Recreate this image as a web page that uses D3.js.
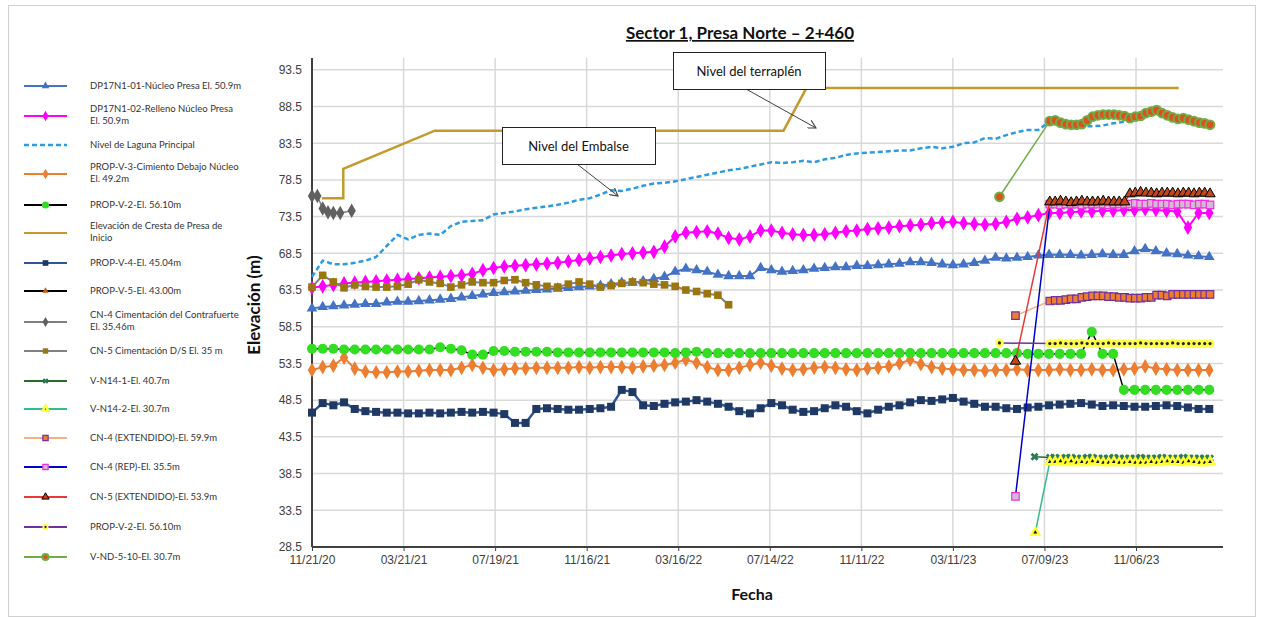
<!DOCTYPE html>
<html lang="es">
<head>
    <meta charset="UTF-8">
    <title>Sector 1, Presa Norte – 2+460</title>
    <script src="https://cdn.jsdelivr.net/npm/d3@7/dist/d3.min.js"></script>
    <style>
        body { margin: 0; background: #fff; }
        svg { display: block; }
        .tick-label { font-family: 'Liberation Sans', Arial, sans-serif; font-size: 12px; fill: #404040; }
        .legend text { font-family: Lato, 'Open Sans', sans-serif; font-size: 9.5px; fill: #333; }
        .note text { font-family: Lato, 'Open Sans', sans-serif; font-size: 13px; fill: #111; }
    </style>
</head>
<body>
<script>
    const width = 1264;
    const height = 617;

    // fechas de lectura: cada 14 dias desde el inicio, y semanal para los instrumentos nuevos
    const gridStart = new Date(2020, 10, 21);
    const readingDates = d3.range(85).map(i => d3.timeDay.offset(gridStart, 14 * i));
    const lateDates = d3.range(31).map(k => d3.timeDay.offset(new Date(2023, 6, 16), 7 * k));
    const xTickDates = d3.range(10).map(i => d3.timeDay.offset(gridStart, 120 * i));
    const yTickValues = [28.5, 33.5, 38.5, 43.5, 48.5, 53.5, 58.5, 63.5, 68.5, 73.5, 78.5, 83.5, 88.5, 93.5];

    const dp01Vals = [61.0,61.2,61.3,61.4,61.5,61.6,61.6,61.8,61.9,61.9,
        62.0,62.1,62.2,62.3,62.5,62.7,62.9,63.1,63.2,63.3,
        63.4,63.5,63.6,63.7,63.8,63.9,64.0,64.1,64.3,64.5,
        64.5,64.7,65.0,65.3,66.0,66.4,66.2,66.0,65.6,65.4,
        65.4,65.4,66.5,66.2,66.0,66.1,66.2,66.4,66.5,66.6,
        66.6,66.8,66.8,66.9,67.0,67.1,67.3,67.3,67.2,67.0,
        66.9,67.0,67.2,67.5,67.9,67.8,67.9,68.0,68.2,68.3,
        68.3,68.3,68.2,68.3,68.4,68.3,68.3,68.8,69.1,68.8,
        68.5,68.4,68.2,68.1,68.0];

    const dp02Vals = [63.8,64.0,64.2,64.4,64.5,64.6,64.7,64.8,64.9,65.0,
        65.1,65.2,65.3,65.4,65.5,65.7,66.2,66.5,66.7,66.8,
        66.9,67.0,67.1,67.2,67.4,67.6,67.8,68.0,68.2,68.4,
        68.5,68.6,68.7,69.4,70.8,71.3,71.4,71.5,71.2,70.6,
        70.4,70.8,71.6,71.6,71.3,71.1,71.0,71.0,71.1,71.3,
        71.5,71.6,71.8,71.9,72.0,72.2,72.3,72.4,72.6,72.7,
        72.8,72.6,72.5,72.4,72.5,72.8,73.2,73.4,73.7,74.0,
        74.0,74.1,74.2,74.2,74.3,74.3,74.4,74.4,74.5,74.4,
        74.3,74.2,72.0,74.0,74.0];

    const lagunaVals = [65.3,67.5,67.0,67.0,67.2,67.5,68.0,69.5,71.0,70.4,
        71.0,71.2,71.0,72.2,72.8,72.9,73.0,73.8,74.0,74.2,
        74.5,74.7,74.9,75.1,75.4,75.8,76.0,76.5,77.1,77.0,
        77.3,77.7,78.0,78.1,78.3,78.6,78.9,79.2,79.5,79.8,
        80.0,80.3,80.6,80.9,80.8,80.9,81.1,80.9,81.3,81.5,
        81.9,82.1,82.2,82.3,82.4,82.5,82.5,82.8,83.0,82.8,
        83.0,83.5,83.6,84.2,84.1,84.6,85.0,85.3,85.3,86.4,
        86.2,86.0,85.8,85.8,85.9,86.2,86.4,86.6,87.0];

    const propV3Vals = [52.6,53.0,53.2,54.3,52.8,52.4,52.3,52.3,52.4,52.4,
        52.5,52.6,52.6,52.6,52.9,53.3,52.9,52.6,52.7,52.8,
        52.8,52.9,52.9,52.9,52.9,53.0,52.9,53.0,53.0,53.0,
        52.9,53.1,53.2,53.3,53.6,54.0,53.6,53.0,52.6,52.6,
        52.9,53.3,53.6,53.2,52.8,52.6,52.7,52.9,53.0,52.9,
        52.7,52.6,52.8,52.9,53.1,53.5,54.0,53.4,53.0,52.8,
        52.7,52.6,52.6,52.5,52.6,52.6,52.7,52.6,52.6,52.6,
        52.7,52.6,52.6,52.7,52.6,52.6,52.7,52.8,53.1,52.8,
        52.7,52.6,52.6,52.6,52.6];

    const propV2Vals = [55.5,55.5,55.5,55.4,55.4,55.4,55.4,55.4,55.4,55.4,
        55.4,55.4,55.7,55.5,55.3,54.7,54.7,55.2,55.2,55.1,
        55.1,55.1,55.1,55.0,55.0,55.0,55.0,55.0,55.0,55.0,
        55.0,55.0,55.0,55.0,54.9,55.0,55.1,54.9,54.9,54.9,
        54.9,54.9,54.9,54.9,54.9,54.9,54.9,54.9,54.9,54.9,
        54.9,54.9,54.9,54.9,54.9,54.9,54.9,54.9,54.9,54.9,
        54.9,54.9,54.9,54.9,54.9,54.9,54.9,54.8,54.8,54.8,
        54.8,54.8,54.8,57.8,54.8,54.8,49.9,49.9,49.9,49.9,
        49.9,49.9,49.9,49.9,49.9];

    const crestaDates = ['2020-12-04', '2021-01-01', '2021-01-01', '2021-05-01', '2022-08-01', '2022-08-31', '2024-01-01'];
    const crestaVals = [76.0, 76.0, 80.0, 85.2, 85.2, 91.0, 91.0];

    const propV4Vals = [46.8,48.1,47.8,48.2,47.3,47.0,46.9,46.8,46.8,46.7,
        46.7,46.8,46.7,46.8,46.9,46.8,46.9,46.8,46.6,45.4,
        45.4,47.3,47.4,47.3,47.2,47.2,47.3,47.4,47.6,49.9,
        49.6,47.8,47.7,48.0,48.2,48.3,48.5,48.3,48.0,47.6,
        47.0,46.7,47.4,48.1,47.8,47.2,46.9,47.0,47.4,47.8,
        47.6,47.0,46.7,47.2,47.6,47.8,48.2,48.5,48.4,48.6,
        48.8,48.3,48.0,47.6,47.6,47.4,47.3,47.5,47.6,47.8,
        47.9,48.0,48.1,47.9,47.7,47.8,47.7,47.6,47.6,47.7,
        47.8,47.7,47.5,47.3,47.3];

    const cn4CimDates = ['2020-11-21', '2020-11-28', '2020-12-05', '2020-12-12', '2020-12-19', '2020-12-28', '2021-01-12'];
    const cn4CimVals = [76.3, 76.3, 74.6, 74.1, 74.0, 74.0, 74.3];

    const cn5dsVals = [63.9,65.5,64.6,63.8,64.2,64.0,63.9,63.9,64.0,64.3,
        64.9,64.6,64.4,63.9,64.2,64.6,64.5,64.5,64.8,64.9,
        64.5,64.2,64.0,63.9,64.3,64.6,64.3,63.9,64.1,64.4,
        64.6,64.5,64.3,64.2,64.0,63.5,63.3,63.0,62.8,61.5];

    // instrumentos nuevos: primera lectura + lecturas semanales
    const vn141Start = ['2023-06-26', 40.8];
    const vn141Vals = [40.7,40.7,40.6,40.7,40.7,40.6,40.6,40.7,40.7,40.6,40.6,40.6,40.7,40.6,40.6,40.6,
        40.6,40.7,40.6,40.6,40.6,40.7,40.6,40.6,40.6,40.7,40.6,40.6,40.6,40.6,40.6];
    const vn142Start = ['2023-06-27', 30.5];
    const vn142Vals = [40.1,40.1,40.2,40.0,40.2,40.0,40.1,40.0,40.2,40.1,40.0,40.0,40.1,40.0,40.0,40.1,
        40.0,40.0,40.0,40.1,40.0,40.1,40.2,40.1,40.1,40.0,40.2,40.1,40.0,40.0,40.1];
    const cn4ExtStart = ['2023-06-01', 60.0];
    const cn4ExtVals = [62.0,62.1,62.1,62.2,62.3,62.3,62.5,62.6,62.7,62.7,62.7,62.6,62.6,62.5,62.5,62.4,
        62.4,62.4,62.5,62.5,62.8,62.8,62.7,62.9,62.9,62.9,62.9,62.9,62.9,62.9,62.9];
    const cn4RepStart = ['2023-06-01', 35.4];
    const cn4RepVals = [75.2,75.2,75.1,75.2,75.2,75.2,75.1,75.2,75.2,75.2,75.2,75.1,75.2,75.2,75.2,75.2,
        75.3,75.2,75.2,75.3,75.2,75.2,75.2,75.1,75.2,75.2,75.2,75.1,75.2,75.2,75.1];
    const cn5ExtStart = ['2023-06-01', 53.8];
    const cn5ExtVals = [75.5,75.5,75.6,75.5,75.4,75.5,75.6,75.5,75.5,75.5,75.6,75.5,75.5,75.5,75.5,76.6,
        76.7,76.8,76.7,76.7,76.6,76.7,76.7,76.7,76.6,76.7,76.7,76.6,76.7,76.7,76.6];
    const propV2bStart = ['2023-05-11', 56.3];
    const propV2bVals = [56.2,56.2,56.3,56.2,56.2,56.2,56.3,56.2,56.2,56.2,56.2,56.3,56.2,56.2,56.2,56.2,
        56.2,56.3,56.2,56.2,56.2,56.2,56.2,56.3,56.2,56.2,56.2,56.2,56.2,56.2,56.2];
    const vnd510Start = ['2023-05-11', 76.2];
    const vnd510Vals = [86.5,86.6,86.3,86.1,86.0,86.0,86.1,86.6,87.1,87.3,87.4,87.4,87.4,87.3,87.2,86.9,
        87.1,87.2,87.6,87.8,88.0,87.6,87.3,87.0,86.8,86.9,86.7,86.5,86.3,86.2,86.0];

    const parse = d3.timeParse('%Y-%m-%d');
    const toPts = (dates, vals) => vals.map((v, i) => ({ date: dates[i], value: v }));
    const latePts = (start, vals) => [{ date: parse(start[0]), value: start[1] }, ...toPts(lateDates, vals)];

    const tri = d3.symbolTriangle, dia = d3.symbolDiamond, sq = d3.symbolSquare, cir = d3.symbolCircle;

    // series en el orden de la leyenda (orden de dibujo)
    const series = [
        { label: ['DP17N1-01-Núcleo Presa El. 50.9m'], color: '#4472C4', w: 2,
          mk: { shape: tri, size: 50, fill: '#4472C4' }, pts: toPts(readingDates, dp01Vals) },
        { label: ['DP17N1-02-Relleno Núcleo Presa', 'El. 50.9m'], color: '#FF00FF', w: 2,
          mk: { shape: dia, size: 62, fill: '#FF00FF' }, pts: toPts(readingDates, dp02Vals) },
        { label: ['Nivel de Laguna Principal'], color: '#2E9BE0', w: 2.5, dash: '5,3',
          mk: null, pts: toPts(readingDates, lagunaVals) },
        { label: ['PROP-V-3-Cimiento Debajo Núcleo', 'El. 49.2m'], color: '#ED7D31', w: 2,
          mk: { shape: dia, size: 62, fill: '#ED7D31' }, pts: toPts(readingDates, propV3Vals) },
        { label: ['PROP-V-2-El. 56.10m'], color: '#000', w: 1.5,
          mk: { shape: cir, size: 80, fill: '#33DD22' }, pts: toPts(readingDates, propV2Vals) },
        { label: ['Elevación de Cresta de Presa de', 'Inicio'], color: '#C49A2C', w: 2.5,
          mk: null, pts: toPts(crestaDates.map(parse), crestaVals) },
        { label: ['PROP-V-4-El. 45.04m'], color: '#2F5597', w: 2.5,
          mk: { shape: sq, size: 64, fill: '#203864' }, pts: toPts(readingDates, propV4Vals) },
        { label: ['PROP-V-5-El. 43.00m'], color: '#000', w: 1.5,
          mk: { shape: tri, size: 36, fill: '#C55A11' }, pts: [] },
        { label: ['CN-4 Cimentación del Contrafuerte', 'El. 35.46m'], color: '#7F7F7F', w: 1.5,
          mk: { shape: dia, size: 60, fill: '#606060' }, pts: toPts(cn4CimDates.map(parse), cn4CimVals) },
        { label: ['CN-5 Cimentación D/S El. 35 m'], color: '#808080', w: 2,
          mk: { shape: sq, size: 58, fill: '#9B7510' }, pts: toPts(readingDates, cn5dsVals) },
        { label: ['V-N14-1-El. 40.7m'], color: '#2A6A2A', w: 1.5,
          mk: { shape: d3.symbolCross, size: 40, fill: '#2F7A5A', rotate: 45 }, pts: latePts(vn141Start, vn141Vals) },
        { label: ['V-N14-2-El. 30.7m'], color: '#33BB88', w: 1.5,
          mk: { shape: tri, size: 28, fill: '#111', stroke: '#FFFF33', sw: 2.5 }, pts: latePts(vn142Start, vn142Vals) },
        { label: ['CN-4 (EXTENDIDO)-El. 59.9m'], color: '#F4B183', w: 1.5,
          mk: { shape: sq, size: 56, fill: '#ED7D31', stroke: '#7030A0', sw: 1.2 }, pts: latePts(cn4ExtStart, cn4ExtVals) },
        { label: ['CN-4 (REP)-El. 35.5m'], color: '#0000CC', w: 1.5,
          mk: { shape: sq, size: 56, fill: '#D6B8D6', stroke: '#EE33DD', sw: 1.2 }, pts: latePts(cn4RepStart, cn4RepVals) },
        { label: ['CN-5 (EXTENDIDO)-El. 53.9m'], color: '#E8383A', w: 1.5,
          mk: { shape: tri, size: 46, fill: '#C0461C', stroke: '#000', sw: 1 }, pts: latePts(cn5ExtStart, cn5ExtVals) },
        { label: ['PROP-V-2-El. 56.10m'], color: '#7030A0', w: 1.5,
          mk: { shape: cir, size: 60, fill: '#FFFF44', inner: '#222' }, pts: latePts(propV2bStart, propV2bVals) },
        { label: ['V-ND-5-10-El. 30.7m'], color: '#70AD47', w: 1.5,
          mk: { shape: cir, size: 60, fill: '#D9531E', stroke: '#70AD47', sw: 2 }, pts: latePts(vnd510Start, vnd510Vals) }
    ];

    const legendY = [86, 116, 145, 174, 205, 233, 263, 291, 322, 351, 381, 409, 438, 467, 497, 527, 557];

    const svg = d3.select('body').append('svg')
        .attr('width', width)
        .attr('height', height);

    // marco del grafico
    svg.append('rect')
        .attr('x', 8.5).attr('y', 5.5)
        .attr('width', 1247).attr('height', 611)
        .attr('fill', 'none').attr('stroke', '#D0D0D0');

    const pLeft = 312, pRight = 1223, pTop = 58, pBottom = 547;

    const x = d3.scaleTime()
        .domain([gridStart, new Date(2024, 1, 28)])
        .range([pLeft, pRight]);
    const y = d3.scaleLinear()
        .domain([28.5, 95.1])
        .range([pBottom, pTop]);

    // rejilla
    svg.append('g').selectAll('line').data(yTickValues.slice(1)).join('line')
        .attr('x1', pLeft).attr('x2', pRight)
        .attr('y1', d => y(d)).attr('y2', d => y(d))
        .attr('stroke', '#D9D9D9').attr('stroke-width', 1.5);
    svg.append('g').selectAll('line').data(xTickDates.slice(1)).join('line')
        .attr('x1', d => x(d)).attr('x2', d => x(d))
        .attr('y1', pTop).attr('y2', pBottom)
        .attr('stroke', '#D9D9D9').attr('stroke-width', 1.5);

    // ejes
    const xAxis = svg.append('g')
        .attr('transform', `translate(0,${pBottom})`)
        .call(d3.axisBottom(x).tickValues(xTickDates).tickFormat(d3.timeFormat('%m/%d/%y')).tickSize(4).tickPadding(4));
    const yAxis = svg.append('g')
        .attr('transform', `translate(${pLeft},0)`)
        .call(d3.axisLeft(y).tickValues(yTickValues).tickFormat(d3.format('.1f')).tickSize(0).tickPadding(10));
    [xAxis, yAxis].forEach(a => {
        a.select('.domain').attr('stroke', '#404040').attr('stroke-width', 2);
        a.selectAll('.tick line').attr('stroke', '#404040');
        a.selectAll('.tick text').attr('class', 'tick-label').attr('fill', null).attr('font-size', null).attr('font-family', null);
    });
    yAxis.select('.domain').attr('d', `M0,${pTop}V${pBottom}`);
    xAxis.select('.domain').attr('d', `M${pLeft},0H${pRight}`);

    // series
    const line = d3.line().x(d => x(d.date)).y(d => y(d.value));

    function drawMarkers (g, pts, mk, scale) {
        const sym = d3.symbol().type(mk.shape).size(mk.size * scale);
        g.selectAll(null).data(pts).join('path')
            .attr('transform', d => `translate(${d.px},${d.py}) rotate(${mk.rotate || 0})`)
            .attr('d', sym)
            .attr('fill', mk.fill)
            .attr('stroke', mk.stroke || 'none')
            .attr('stroke-width', mk.sw || 0);
        if (mk.inner) {
            g.selectAll(null).data(pts).join('circle')
                .attr('cx', d => d.px).attr('cy', d => d.py)
                .attr('r', 1.6 * Math.sqrt(scale))
                .attr('fill', mk.inner);
        }
    }

    const plot = svg.append('g');
    series.forEach(s => {
        if (!s.pts.length) return;
        const g = plot.append('g');
        g.append('path')
            .datum(s.pts)
            .attr('d', line)
            .attr('fill', 'none')
            .attr('stroke', s.color)
            .attr('stroke-width', s.w)
            .attr('stroke-dasharray', s.dash || null);
        if (s.mk) {
            drawMarkers(g, s.pts.map(d => ({ px: x(d.date), py: y(d.value) })), s.mk, 1);
        }
    });

    // leyenda
    const legend = svg.append('g').attr('class', 'legend');
    series.forEach((s, i) => {
        const ly = legendY[i];
        const g = legend.append('g');
        g.append('line')
            .attr('x1', 24).attr('x2', 67)
            .attr('y1', ly).attr('y2', ly)
            .attr('stroke', s.color)
            .attr('stroke-width', s.dash ? 2.5 : 2)
            .attr('stroke-dasharray', s.dash || null);
        if (s.mk) drawMarkers(g, [{ px: 45.5, py: ly }], s.mk, 0.5);
        const t = g.append('text').attr('x', 90);
        s.label.forEach((txt, j) => {
            t.append('tspan')
                .attr('x', 90)
                .attr('y', s.label.length === 1 ? ly + 3 : ly - 4 + j * 12)
                .text(txt);
        });
    });

    // anotaciones
    svg.append('defs').append('marker')
        .attr('id', 'arrow')
        .attr('viewBox', '0 0 10 10')
        .attr('refX', 9).attr('refY', 5)
        .attr('markerWidth', 9).attr('markerHeight', 9)
        .attr('orient', 'auto')
        .append('path')
        .attr('d', 'M0,0L9,5L0,10')
        .attr('fill', 'none')
        .attr('stroke', '#404040')
        .attr('stroke-width', 1.2);

    const notes = [
        { text: 'Nivel del Embalse', box: [502, 127, 153, 37], from: [577, 164], to: [618, 196] },
        { text: 'Nivel del terraplén', box: [673, 52, 152, 37], from: [746, 89], to: [816, 128] }
    ];
    const note = svg.append('g').attr('class', 'note');
    notes.forEach(n => {
        note.append('line')
            .attr('x1', n.from[0]).attr('y1', n.from[1])
            .attr('x2', n.to[0]).attr('y2', n.to[1])
            .attr('stroke', '#404040').attr('stroke-width', 1)
            .attr('marker-end', 'url(#arrow)');
        note.append('rect')
            .attr('x', n.box[0] + 0.5).attr('y', n.box[1] + 0.5)
            .attr('width', n.box[2]).attr('height', n.box[3])
            .attr('fill', '#fff').attr('stroke', '#222');
        note.append('text')
            .attr('x', n.box[0] + n.box[2] / 2)
            .attr('y', n.box[1] + n.box[3] / 2 + 5)
            .attr('text-anchor', 'middle')
            .text(n.text);
    });

    // titulos
    svg.append('text')
        .attr('x', 740).attr('y', 39)
        .attr('text-anchor', 'middle')
        .attr('font-family', 'Lato, sans-serif')
        .attr('font-weight', 'bold')
        .attr('font-size', 17)
        .attr('text-decoration', 'underline')
        .attr('fill', '#111')
        .text('Sector 1, Presa Norte – 2+460');

    svg.append('text')
        .attr('transform', 'translate(260,305) rotate(-90)')
        .attr('text-anchor', 'middle')
        .attr('font-family', 'Lato, sans-serif')
        .attr('font-weight', 'bold')
        .attr('font-size', 17)
        .attr('fill', '#111')
        .text('Elevación (m)');

    svg.append('text')
        .attr('x', 752).attr('y', 600)
        .attr('text-anchor', 'middle')
        .attr('font-family', 'Lato, sans-serif')
        .attr('font-weight', 'bold')
        .attr('font-size', 16)
        .attr('fill', '#111')
        .text('Fecha');
</script>
</body>
</html>
